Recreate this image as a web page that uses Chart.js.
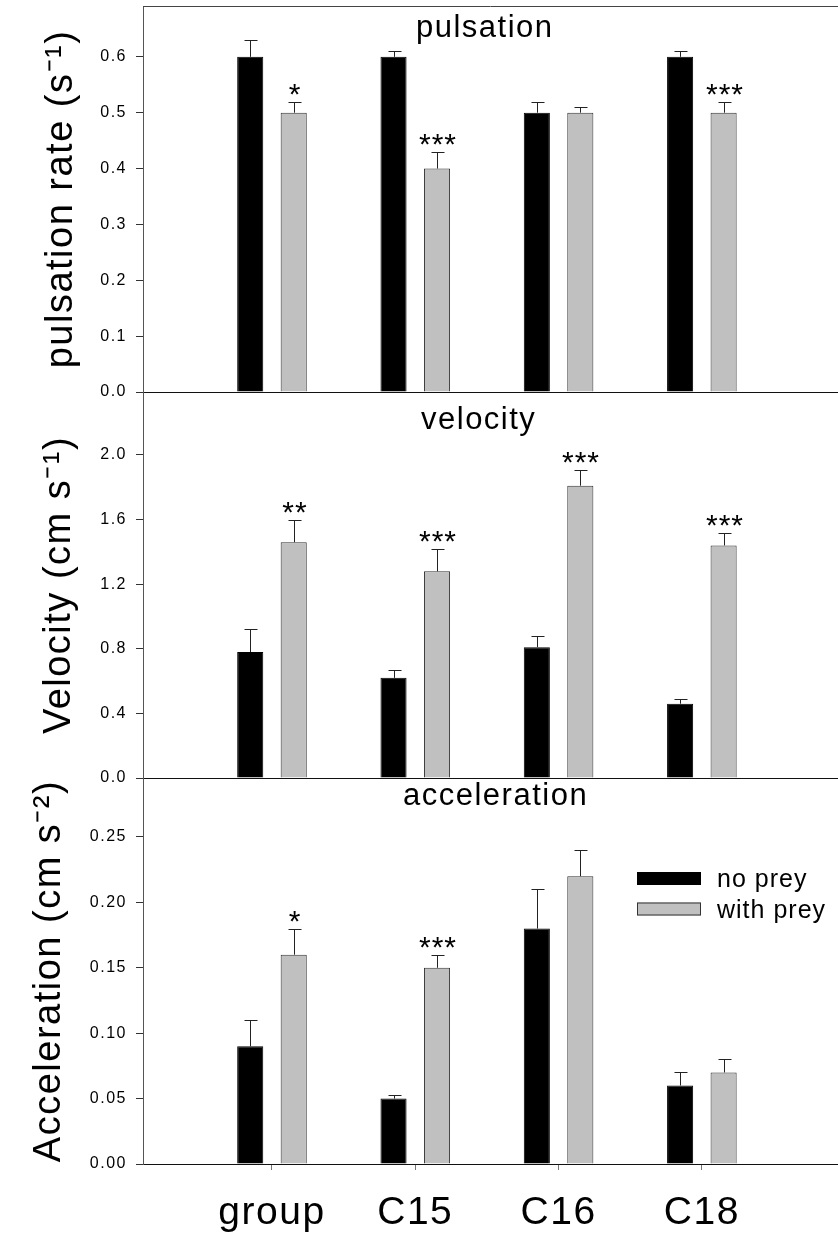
<!DOCTYPE html>
<html>
<head>
<meta charset="utf-8">
<script src="https://cdn.jsdelivr.net/npm/chart.js@4.4.1/dist/chart.umd.min.js"></script>
<style>
  body { margin: 0; background: #fff; overflow: hidden; width: 838px; height: 1237px; position: relative; }
  canvas { position: absolute; left: 0; }
</style>
</head>
<body>
<canvas id="pulse" width="838" height="410" style="top:0px"></canvas>
<canvas id="vel" width="838" height="410" style="top:380px"></canvas>
<canvas id="acc" width="838" height="471" style="top:766px"></canvas>
<script>
var categories = ['group', 'C15', 'C16', 'C18'];
var seriesNames = ['no prey', 'with prey'];

var pulsationNoPrey = [0.60, 0.60, 0.50, 0.60];
var pulsationNoPreyErr = [0.03, 0.01, 0.02, 0.01];
var pulsationWithPrey = [0.50, 0.40, 0.50, 0.50];
var pulsationWithPreyErr = [0.02, 0.03, 0.01, 0.02];
var pulsationSig = ['*', '***', '', '***'];
var pulsationTicks = [0, 0.1, 0.2, 0.3, 0.4, 0.5, 0.6];

var velocityNoPrey = [0.78, 0.62, 0.81, 0.46];
var velocityNoPreyErr = [0.14, 0.05, 0.07, 0.03];
var velocityWithPrey = [1.46, 1.28, 1.81, 1.44];
var velocityWithPreyErr = [0.14, 0.14, 0.10, 0.08];
var velocitySig = ['**', '***', '***', '***'];
var velocityTicks = [0, 0.4, 0.8, 1.2, 1.6, 2.0];

var accelNoPrey = [0.09, 0.05, 0.18, 0.06];
var accelNoPreyErr = [0.02, 0.003, 0.03, 0.01];
var accelWithPrey = [0.16, 0.15, 0.22, 0.07];
var accelWithPreyErr = [0.02, 0.01, 0.02, 0.01];
var accelSig = ['*', '***', '', ''];
var accelTicks = [0, 0.05, 0.10, 0.15, 0.20, 0.25];

var FONT = '"Liberation Sans", Arial, sans-serif';
var BLACK = '#000000';
var GREY = '#c0c0c0';

function points(vals) {
    return vals.map(function (v, i) { return {x: i, y: v}; });
}

// error bars (upward only) + significance stars, panel name, legend, top frame
var extras = {
    id: 'extras',
    beforeDraw: function (chart) {
        chart.ctx.letterSpacing = '1.5px';
    },
    afterDatasetsDraw: function (chart, args, opts) {
        var ctx = chart.ctx;
        var yScale = chart.scales.y;
        var area = chart.chartArea;
        ctx.save();
        chart.data.datasets.forEach(function (ds, di) {
            var meta = chart.getDatasetMeta(di);
            meta.data.forEach(function (bar, i) {
                var top = Math.round(yScale.getPixelForValue(ds.data[i].y + ds.errors[i])) + 0.5;
                var x = Math.round(bar.x) + 0.5;
                ctx.strokeStyle = '#222';
                ctx.lineWidth = 1;
                ctx.beginPath();
                ctx.moveTo(x, bar.y);
                ctx.lineTo(x, top);
                ctx.moveTo(x - 6, top);
                ctx.lineTo(x + 7, top);
                ctx.stroke();
                if (ds.sig && ds.sig[i]) {
                    ctx.fillStyle = '#000';
                    ctx.font = '30px ' + FONT;
                    ctx.letterSpacing = '1px';
                    ctx.textAlign = 'center';
                    ctx.textBaseline = 'alphabetic';
                    ctx.fillText(ds.sig[i], x + 0.5, top + 1);
                }
            });
        });

        if (opts.frameTop) {
            ctx.strokeStyle = '#444';
            ctx.lineWidth = 1;
            ctx.beginPath();
            ctx.moveTo(area.left, area.top + 0.5);
            ctx.lineTo(area.right, area.top + 0.5);
            ctx.stroke();
        }

        ctx.fillStyle = '#000';
        ctx.font = '31px ' + FONT;
        ctx.letterSpacing = '1.5px';
        ctx.textAlign = 'left';
        ctx.textBaseline = 'alphabetic';
        ctx.fillText(opts.name, opts.nameX, area.top + opts.nameDy);

        if (opts.legend) {
            ctx.font = '25px ' + FONT;
            ctx.letterSpacing = '1px';
            chart.data.datasets.forEach(function (ds, di) {
                var top = area.top + 94 + di * 30.5;
                ctx.fillStyle = ds.backgroundColor;
                ctx.fillRect(637, top, 64, 13);
                ctx.strokeStyle = di === 0 ? '#000' : '#333';
                ctx.strokeRect(637.5, top + 0.5, 63, 12);
                ctx.fillStyle = '#000';
                ctx.fillText(ds.label, 717, top + 15);
            });
        }
        ctx.restore();
    }
};

function makePanel(id, cfg) {
    var ctx = document.getElementById(id).getContext('2d');
    return new Chart(ctx, {
        type: 'bar',
        data: {
            datasets: [{
                label: seriesNames[0],
                data: points(cfg.noPrey),
                errors: cfg.noPreyErr,
                backgroundColor: BLACK,
                borderColor: BLACK,
                borderWidth: 1
            }, {
                label: seriesNames[1],
                data: points(cfg.withPrey),
                errors: cfg.withPreyErr,
                sig: cfg.sig,
                backgroundColor: GREY,
                borderColor: '#333',
                borderWidth: 1
            }]
        },
        options: {
            responsive: false,
            animation: false,
            categoryPercentage: 0.607,
            barPercentage: 0.6,
            layout: { padding: { left: 0, right: 0, top: cfg.padTop, bottom: cfg.padBottom } },
            plugins: {
                legend: { display: false },
                tooltip: { enabled: false },
                extras: {
                    name: cfg.name, nameX: cfg.nameX, nameDy: cfg.nameDy,
                    frameTop: cfg.frameTop, legend: cfg.legend
                }
            },
            scales: {
                x: {
                    type: 'linear',
                    offset: false,
                    min: -0.9,
                    max: 3.95,
                    afterBuildTicks: function (s) {
                        s.ticks = categories.map(function (c, i) { return {value: i}; });
                    },
                    afterFit: function (s) {
                        s.height = cfg.showX ? 73 : 0;
                        s.paddingLeft = 0;
                        s.paddingRight = 0;
                    },
                    border: { display: true, color: '#111', width: 1 },
                    grid: {
                        offset: false,
                        drawOnChartArea: false,
                        drawTicks: cfg.showX,
                        tickLength: 6,
                        color: '#777'
                    },
                    ticks: {
                        display: cfg.showX,
                        autoSkip: false,
                        maxRotation: 0,
                        padding: 20,
                        color: '#000',
                        font: { family: FONT, size: 39 },
                        callback: function (v) { return categories[v]; }
                    }
                },
                y: {
                    min: 0,
                    max: cfg.max,
                    afterBuildTicks: function (s) {
                        s.ticks = cfg.ticks.map(function (v) { return {value: v}; });
                    },
                    afterFit: function (s) {
                        s.width = 143;
                        s.paddingTop = 0;
                        s.paddingBottom = 0;
                    },
                    border: { display: true, color: '#555', width: 1 },
                    grid: {
                        drawOnChartArea: false,
                        drawTicks: true,
                        tickLength: 7,
                        color: '#333'
                    },
                    ticks: {
                        padding: 9,
                        color: '#000',
                        font: { family: FONT, size: 16 },
                        callback: function (v) { return v.toFixed(cfg.decimals); }
                    },
                    title: {
                        display: true,
                        text: cfg.title,
                        color: '#000',
                        font: { family: FONT, size: 38 },
                        padding: { top: cfg.titlePad, bottom: 0 }
                    }
                }
            }
        },
        plugins: [extras]
    });
}

makePanel('pulse', {
    noPrey: pulsationNoPrey, noPreyErr: pulsationNoPreyErr,
    withPrey: pulsationWithPrey, withPreyErr: pulsationWithPreyErr,
    sig: pulsationSig, ticks: pulsationTicks, max: 0.691, decimals: 1,
    title: 'pulsation rate (s\u207B\u00B9)', titlePad: 39,
    name: 'pulsation', nameX: 416, nameDy: 30.7,
    padTop: 6, padBottom: 18, frameTop: true, legend: false, showX: false
});

makePanel('vel', {
    noPrey: velocityNoPrey, noPreyErr: velocityNoPreyErr,
    withPrey: velocityWithPrey, withPreyErr: velocityWithPreyErr,
    sig: velocitySig, ticks: velocityTicks, max: 2.39, decimals: 1,
    title: 'Velocity (cm s\u207B\u00B9)', titlePad: 37,
    name: 'velocity', nameX: 421, nameDy: 37,
    padTop: 12, padBottom: 12, frameTop: false, legend: false, showX: false
});

makePanel('acc', {
    noPrey: accelNoPrey, noPreyErr: accelNoPreyErr,
    withPrey: accelWithPrey, withPreyErr: accelWithPreyErr,
    sig: accelSig, ticks: accelTicks, max: 0.2951, decimals: 2,
    title: 'Acceleration (cm s\u207B\u00B2)', titlePad: 27,
    name: 'acceleration', nameX: 403, nameDy: 26.7,
    padTop: 12, padBottom: 0, frameTop: false, legend: true, showX: true
});
</script>
</body>
</html>
